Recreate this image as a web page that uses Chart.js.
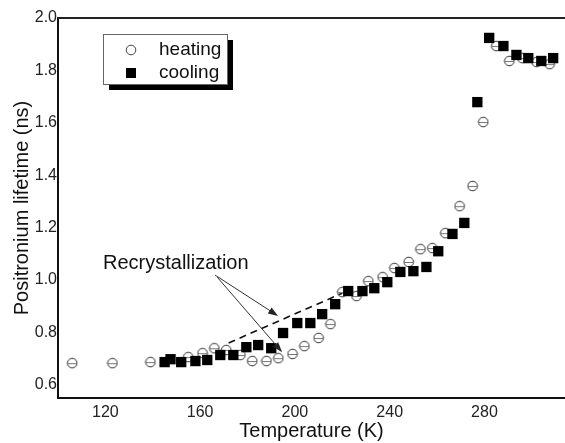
<!DOCTYPE html>
<html>
<head>
<meta charset="utf-8">
<script src="https://cdn.jsdelivr.net/npm/chart.js@4"></script>
<style>
  html, body { margin: 0; padding: 0; background: #fff; }
  #wrap { width: 565px; height: 443px; position: relative; }
</style>
</head>
<body>
<div id="wrap"><canvas id="lifetimeChart"></canvas></div>
<script>
// values (temperature in K, lifetime in ns)
const heatingT = [106, 123, 139, 155, 161, 166, 171, 177, 182, 188, 193, 199, 204, 210, 215, 220, 226, 231, 237, 242, 248, 253, 258, 263.5, 269.5, 275, 279.5, 285, 290.5, 296, 302, 307.5];
const heatingTau = [0.683, 0.683, 0.687, 0.706, 0.721, 0.740, 0.733, 0.714, 0.691, 0.691, 0.702, 0.718, 0.748, 0.779, 0.832, 0.954, 0.939, 0.996, 1.011, 1.046, 1.069, 1.118, 1.122, 1.179, 1.282, 1.359, 1.603, 1.893, 1.836, 1.847, 1.832, 1.824];
const coolingT = [145, 147.5, 152, 158, 163, 168.5, 174, 179.5, 184.5, 190, 195, 201, 206.5, 211.5, 217, 222.5, 228.5, 233.5, 239, 244.5, 250, 255.5, 260.5, 266.5, 271.5, 277, 282, 288, 293.5, 298.5, 304, 309];
const coolingTau = [0.687, 0.698, 0.687, 0.691, 0.695, 0.714, 0.714, 0.744, 0.752, 0.740, 0.798, 0.836, 0.836, 0.870, 0.908, 0.958, 0.958, 0.969, 0.992, 1.031, 1.034, 1.050, 1.110, 1.176, 1.218, 1.679, 1.924, 1.893, 1.859, 1.847, 1.836, 1.847];
const guideT = [172, 220];
const guideTau = [0.76, 0.95];
const xTicks = [120, 160, 200, 240, 280];
const yTicks = [0.6, 0.8, 1.0, 1.2, 1.4, 1.6, 1.8, 2.0];
const seriesNames = ["heating", "cooling"];

const FONT = "'Liberation Sans', Arial, Helvetica, sans-serif";

// annotation anchored in data units
const note = {
  text: "Recrystallization",
  t: 119, tau: 1.065,
  arrows: [
    { from: [166.3, 1.019], to: [192.9, 0.863] },
    { from: [167.2, 1.011], to: [194.6, 0.725] },
  ],
};

// open circle marker (with the little bar seen in the scan)
function makeCircleMarker() {
  const c = document.createElement("canvas");
  c.width = 12; c.height = 12;
  const g = c.getContext("2d");
  g.strokeStyle = "#333";
  g.lineWidth = 1;
  g.beginPath();
  g.arc(6, 6, 4.8, 0, Math.PI * 2);
  g.stroke();
  g.strokeStyle = "#777";
  g.beginPath();
  g.moveTo(1.5, 6.5); g.lineTo(10.5, 6.5);
  g.stroke();
  return c;
}

function toPoints(xs, ys) {
  return xs.map((x, i) => ({ x: x, y: ys[i] }));
}

function drawArrow(ctx, x1, y1, x2, y2) {
  const ang = Math.atan2(y2 - y1, x2 - x1);
  const len = 10, half = 3.5;
  ctx.beginPath();
  ctx.moveTo(x1, y1);
  ctx.lineTo(x2 - Math.cos(ang) * len * 0.8, y2 - Math.sin(ang) * len * 0.8);
  ctx.stroke();
  ctx.beginPath();
  ctx.moveTo(x2, y2);
  ctx.lineTo(x2 - Math.cos(ang) * len - Math.sin(ang) * half, y2 - Math.sin(ang) * len + Math.cos(ang) * half);
  ctx.lineTo(x2 - Math.cos(ang) * len + Math.sin(ang) * half, y2 - Math.sin(ang) * len - Math.cos(ang) * half);
  ctx.closePath();
  ctx.fill();
}

const decorations = {
  id: "decorations",
  afterDraw(chart) {
    const { ctx, chartArea } = chart;
    const xs = chart.scales.x, ys = chart.scales.y;
    ctx.save();

    // top frame line
    ctx.strokeStyle = "#222";
    ctx.lineWidth = 2;
    ctx.beginPath();
    ctx.moveTo(chartArea.left, chartArea.top);
    ctx.lineTo(chartArea.right, chartArea.top);
    ctx.stroke();

    // recrystallization note + arrows
    ctx.fillStyle = "#111";
    ctx.font = "20px " + FONT;
    ctx.textAlign = "left";
    ctx.textBaseline = "middle";
    ctx.fillText(note.text, xs.getPixelForValue(note.t), ys.getPixelForValue(note.tau));
    ctx.strokeStyle = "#333";
    ctx.fillStyle = "#222";
    ctx.lineWidth = 1;
    note.arrows.forEach((a) => {
      drawArrow(ctx,
        xs.getPixelForValue(a.from[0]), ys.getPixelForValue(a.from[1]),
        xs.getPixelForValue(a.to[0]), ys.getPixelForValue(a.to[1]));
    });

    // legend box with drop shadow
    const bx = 103, by = 34, bw = 124, bh = 50;
    ctx.fillStyle = "#000";
    ctx.fillRect(bx + 6, by + bh, bw, 6);
    ctx.fillRect(bx + bw, by + 6, 6, bh);
    ctx.fillStyle = "#fff";
    ctx.fillRect(bx, by, bw, bh);
    ctx.strokeStyle = "#666";
    ctx.lineWidth = 1;
    ctx.strokeRect(bx + 0.5, by + 0.5, bw, bh);

    ctx.strokeStyle = "#444";
    ctx.beginPath();
    ctx.arc(131, 50, 4.8, 0, Math.PI * 2);
    ctx.stroke();
    ctx.fillStyle = "#000";
    ctx.fillRect(126, 68, 10, 10);

    ctx.fillStyle = "#111";
    ctx.font = "19px " + FONT;
    ctx.fillText(seriesNames[0], 159, 50);
    ctx.fillText(seriesNames[1], 159, 73);

    ctx.restore();
  },
};

const ctx = document.getElementById("lifetimeChart").getContext("2d");
const lifetimeChart = new Chart(ctx, {
  type: "scatter",
  data: {
    datasets: [
      {
        label: seriesNames[0],
        data: toPoints(heatingT, heatingTau),
        pointStyle: makeCircleMarker(),
        pointRadius: 5,
        order: 1,
      },
      {
        label: seriesNames[1],
        data: toPoints(coolingT, coolingTau),
        pointStyle: "rect",
        pointRadius: 7.3,
        backgroundColor: "#000",
        borderColor: "#000",
        borderWidth: 0,
        order: 0,
      },
      {
        type: "line",
        label: "guide",
        data: toPoints(guideT, guideTau),
        borderColor: "#111",
        borderWidth: 1.6,
        borderDash: [7, 5],
        pointRadius: 0,
        order: 2,
      },
    ],
  },
  options: {
    responsive: true,
    maintainAspectRatio: false,
    animation: false,
    layout: { autoPadding: false, padding: { top: 18, right: 0, bottom: 0, left: 0 } },
    plugins: {
      legend: { display: false },
      tooltip: { enabled: false },
    },
    scales: {
      x: {
        type: "linear",
        min: 100,
        max: 314,
        grid: { display: false, drawTicks: false },
        border: { display: true, color: "#111", width: 2 },
        afterBuildTicks: (s) => { s.ticks = xTicks.map((v) => ({ value: v })); },
        afterFit: (s) => { s.height = 45; s.paddingLeft = 0; s.paddingRight = 0; },
        ticks: {
          color: "#222",
          padding: 5,
          font: { family: FONT, size: 16 },
          callback: (v) => String(v),
        },
        title: {
          display: true,
          text: "Temperature (K)",
          color: "#111",
          font: { family: FONT, size: 20 },
          padding: { top: 0, bottom: 0 },
        },
      },
      y: {
        min: 0.55,
        max: 2.0,
        grid: { display: false, drawTicks: false },
        border: { display: true, color: "#111", width: 2 },
        afterBuildTicks: (s) => { s.ticks = yTicks.map((v) => ({ value: v })); },
        afterFit: (s) => { s.width = 58; s.paddingTop = 0; s.paddingBottom = 0; },
        ticks: {
          color: "#222",
          padding: 1,
          font: { family: FONT, size: 16 },
          callback: (v) => v.toFixed(1),
        },
        title: {
          display: true,
          text: "Positronium lifetime (ns)",
          color: "#111",
          font: { family: FONT, size: 20 },
          padding: { top: 10, bottom: 0 },
        },
      },
    },
  },
  plugins: [decorations],
});
</script>
</body>
</html>
